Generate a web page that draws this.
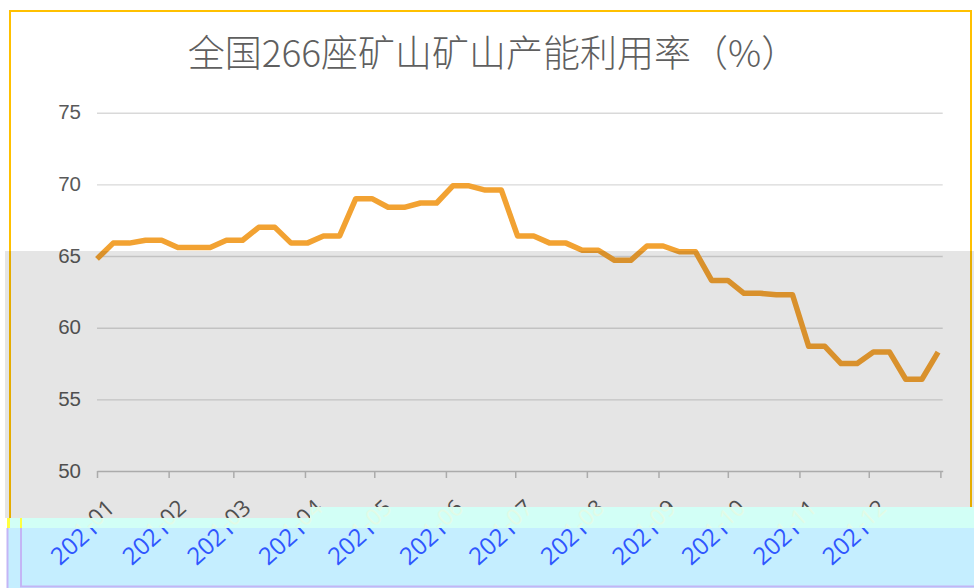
<!DOCTYPE html>
<html>
<head>
<meta charset="utf-8">
<script src="https://cdn.jsdelivr.net/npm/d3@7"></script>
<style>
  body { margin: 0; background: #fff; }
  svg { display: block; }
</style>
</head>
<body>
<script>
const width = 974;
const height = 588;

// Data
const titleText = "全国266座矿山矿山产能利用率（%）";

const weekDates = [
  "2021-01-01", "2021-01-08", "2021-01-15", "2021-01-22", "2021-01-29",
  "2021-02-05", "2021-02-12", "2021-02-19", "2021-02-26",
  "2021-03-05", "2021-03-12", "2021-03-19", "2021-03-26",
  "2021-04-02", "2021-04-09", "2021-04-16", "2021-04-23", "2021-04-30",
  "2021-05-07", "2021-05-14", "2021-05-21", "2021-05-28",
  "2021-06-04", "2021-06-11", "2021-06-18", "2021-06-25",
  "2021-07-02", "2021-07-09", "2021-07-16", "2021-07-23", "2021-07-30",
  "2021-08-06", "2021-08-13", "2021-08-20", "2021-08-27",
  "2021-09-03", "2021-09-10", "2021-09-17", "2021-09-24",
  "2021-10-01", "2021-10-08", "2021-10-15", "2021-10-22", "2021-10-29",
  "2021-11-05", "2021-11-12", "2021-11-19", "2021-11-26",
  "2021-12-03", "2021-12-10", "2021-12-17", "2021-12-24", "2021-12-31"
];

const utilization = [
  64.8, 65.9, 65.9, 66.1, 66.1,
  65.6, 65.6, 65.6, 66.1,
  66.1, 67.0, 67.0, 65.9,
  65.9, 66.4, 66.4, 69.0, 69.0,
  68.4, 68.4, 68.7, 68.7,
  69.9, 69.9, 69.6, 69.6,
  66.4, 66.4, 65.9, 65.9, 65.4,
  65.4, 64.7, 64.7, 65.7,
  65.7, 65.3, 65.3, 63.3,
  63.3, 62.4, 62.4, 62.3, 62.3,
  58.7, 58.7, 57.5, 57.5,
  58.3, 58.3, 56.4, 56.4, 58.3
];

const tickLabels = [
  "2021-01", "2021-02", "2021-03", "2021-04", "2021-05", "2021-06",
  "2021-07", "2021-08", "2021-09", "2021-10", "2021-11", "2021-12"
];
const axisEnd = "2022-01";

const yTicks = [50, 55, 60, 65, 70, 75];

/*
 * ========================================================================
 *  Setup
 * ========================================================================
 */
const parseDay = d3.timeParse("%Y-%m-%d");
const parseMonth = d3.timeParse("%Y-%m");
const data = weekDates.map((d, i) => ({ date: parseDay(d), value: utilization[i] }));
const tickDates = tickLabels.concat([axisEnd]).map(parseMonth);

const plot = { left: 97, right: 942.7, top: 112.7, bottom: 471 };

const xScale = d3
  .scaleTime()
  .domain([parseDay("2021-01-01"), parseDay("2022-01-02")])
  .range([plot.left, plot.right]);

const yScale = d3
  .scaleLinear()
  .domain([50, 75])
  .range([plot.bottom, plot.top]);

const svg = d3
  .select("body")
  .append("svg")
  .attr("width", width)
  .attr("height", height)
  .style("font-family", '"Open Sans", "Noto Sans CJK SC", sans-serif');

svg.append("rect").attr("width", width).attr("height", height).attr("fill", "#fff");

const defs = svg.append("defs");
const mintClip = defs.append("clipPath").attr("id", "clip-mint");
mintClip.append("rect").attr("x", 7).attr("y", 518).attr("width", 967).attr("height", 10);
mintClip.append("rect").attr("x", 310).attr("y", 507).attr("width", 664).attr("height", 11);
defs
  .append("clipPath")
  .attr("id", "clip-blue")
  .append("rect")
  .attr("x", 7)
  .attr("y", 528)
  .attr("width", 967)
  .attr("height", 60);

/*
 * ========================================================================
 *  Axises
 * ========================================================================
 */
const yAxis = svg
  .append("g")
  .attr("transform", `translate(${plot.left},0)`)
  .call(
    d3
      .axisLeft(yScale)
      .tickValues(yTicks)
      .tickSize(-(plot.right - plot.left))
      .tickPadding(16)
  );
yAxis.select(".domain").remove();
yAxis
  .selectAll("line")
  .attr("stroke", (d) => (d === 50 ? "none" : "#d9d9d9"))
  .attr("stroke-width", 1.4);
yAxis
  .selectAll("text")
  .attr("fill", "#595959")
  .style("font-size", "20.5px")
  .attr("dy", "0.3em");

const xAxis = svg
  .append("g")
  .attr("transform", `translate(0,${plot.bottom})`)
  .call(
    d3
      .axisBottom(xScale)
      .tickValues(tickDates)
      .tickSize(7)
      .tickSizeOuter(0)
      .tickFormat("")
  );
xAxis.select(".domain").attr("stroke", "#bfbfbf").attr("stroke-width", 1.5);
xAxis.selectAll("line").attr("stroke", "#bfbfbf").attr("stroke-width", 1.5);

/*
 * ========================================================================
 *  Line
 * ========================================================================
 */
const line = d3
  .line()
  .x((d) => xScale(d.date))
  .y((d) => yScale(d.value));

svg
  .append("path")
  .datum(data)
  .attr("d", line)
  .attr("fill", "none")
  .attr("stroke", "#f2a232")
  .attr("stroke-width", 5.5)
  .attr("stroke-linejoin", "round");

// Title
svg
  .append("text")
  .attr("x", 493)
  .attr("y", 67)
  .attr("text-anchor", "middle")
  .attr("fill", "#5f5f5f")
  .style("font-family", '"Noto Sans CJK SC", sans-serif')
  .style("font-size", "37px")
  .style("font-weight", 300)
  .text(titleText);

// Chart border
svg
  .append("rect")
  .attr("x", 10)
  .attr("y", 11)
  .attr("width", 961)
  .attr("height", 590)
  .attr("fill", "none")
  .attr("stroke", "#ffc000")
  .attr("stroke-width", 2);

/*
 * ========================================================================
 *  Month labels (drawn several times for the overlaid bands)
 * ========================================================================
 */
function drawLabels(fill, clip, dx, y, size) {
  const g = svg.append("g");
  if (clip) g.attr("clip-path", `url(#${clip})`);
  g.selectAll("text")
    .data(tickLabels)
    .enter()
    .append("text")
    .attr("transform", (d) => `translate(${xScale(parseMonth(d)) + dx},${y}) rotate(-42)`)
    .attr("text-anchor", "end")
    .attr("fill", fill)
    .style("font-size", size + "px")
    .text((d) => d);
}

drawLabels("#595959", null, 19, 510, 22.5);

// Grey overlay on the lower half
svg
  .append("rect")
  .attr("x", 5)
  .attr("y", 251)
  .attr("width", 969)
  .attr("height", 267)
  .attr("fill", "#000")
  .attr("opacity", 0.1);

// Mint band
svg.append("rect").attr("x", 7).attr("y", 518).attr("width", 967).attr("height", 10).attr("fill", "#d2fff6");
svg.append("rect").attr("x", 310).attr("y", 507).attr("width", 664).attr("height", 11).attr("fill", "#d2fff6");
svg.append("rect").attr("x", 7).attr("y", 518).attr("width", 3).attr("height", 10).attr("fill", "#ffff40");
svg.append("rect").attr("x", 20).attr("y", 518).attr("width", 2).attr("height", 10).attr("fill", "#ffff40");
drawLabels("#e2fbe6", "clip-mint", 19, 510, 22.5);

// Blue band
svg.append("rect").attr("x", 7).attr("y", 528).attr("width", 967).attr("height", 60).attr("fill", "#c5eeff");
drawLabels("#2f56ff", "clip-blue", 30, 506, 24);
svg
  .append("path")
  .attr("d", "M7.5,528V588M21,528V586.5H974")
  .attr("fill", "none")
  .attr("stroke", "#c4b5f5")
  .attr("stroke-width", 2);
</script>
</body>
</html>
